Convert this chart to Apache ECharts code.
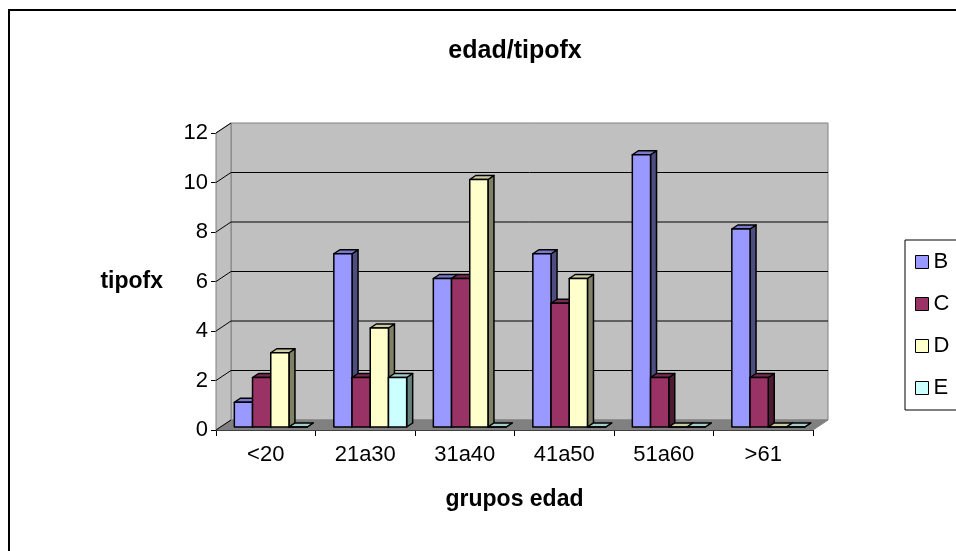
<!DOCTYPE html>
<html>
<head>
<meta charset="utf-8">
<script src="https://cdn.jsdelivr.net/npm/echarts@6/dist/echarts.min.js"></script>
<style>
  html, body { margin: 0; padding: 0; background: #fff; }
  #chart { width: 956px; height: 551px; }
</style>
</head>
<body>
<div id="chart"></div>
<script>
const categories = ['<20', '21a30', '31a40', '41a50', '51a60', '>61'];
const serieB = [1, 7, 6, 7, 11, 8];
const serieC = [2, 2, 6, 5, 2, 2];
const serieD = [3, 4, 10, 6, 0, 0];
const serieE = [0, 2, 0, 0, 0, 0];
const seriesNames = ['B', 'C', 'D', 'E'];
const seriesValues = [serieB, serieC, serieD, serieE];
const colors = ['#9999FF', '#993366', '#FFFFCC', '#CCFFFF'];
const yTicks = [0, 2, 4, 6, 8, 10, 12];

// depth of the fake 3d box and of the bars
const DX = 15, DY = -10;
const FX = 5, FY = -3;
const BX = 6, BY = -4;

function shade(hex, k) {
  const n = parseInt(hex.slice(1), 16);
  const r = Math.round(((n >> 16) & 255) * k);
  const g = Math.round(((n >> 8) & 255) * k);
  const b = Math.round((n & 255) * k);
  return 'rgb(' + r + ',' + g + ',' + b + ')';
}

function renderWalls(params, api) {
  const bw = api.size([1, 0])[0];
  const first = api.coord([0, 0]);
  const last = api.coord([categories.length - 1, 0]);
  const x0 = first[0] - bw / 2, x1 = last[0] + bw / 2;
  const y0 = first[1];
  const yTop = api.coord([0, yTicks[yTicks.length - 1]])[1];
  const kids = [
    { type: 'polygon', shape: { points: [[x0 + DX, yTop + DY], [x1 + DX, yTop + DY], [x1 + DX, y0 + DY], [x0 + DX, y0 + DY]] },
      style: { fill: '#c0c0c0', stroke: '#808080', lineWidth: 1 } },
    { type: 'polygon', shape: { points: [[x0, yTop], [x0 + DX, yTop + DY], [x0 + DX, y0 + DY], [x0, y0]] },
      style: { fill: '#c0c0c0', stroke: '#808080', lineWidth: 1 } },
    { type: 'polygon', shape: { points: [[x0, y0], [x1, y0], [x1 + DX, y0 + DY], [x0 + DX, y0 + DY]] },
      style: { fill: '#808080', stroke: '#808080', lineWidth: 1 } }
  ];
  yTicks.forEach(function (t) {
    const y = api.coord([0, t])[1];
    if (t > 0 && t < yTicks[yTicks.length - 1]) {
      kids.push({ type: 'line', shape: { x1: x0 + DX, y1: y + DY, x2: x1 + DX, y2: y + DY },
        style: { stroke: '#000', lineWidth: 1 } });
    }
    kids.push({ type: 'line', shape: { x1: x0, y1: y, x2: x0 + DX, y2: y + DY },
      style: { stroke: '#000', lineWidth: 1 } });
  });
  return { type: 'group', children: kids };
}

function makeRenderBar(s) {
  const col = colors[s];
  return function (params, api) {
    const i = api.value(0), v = api.value(1);
    const base = api.coord([i, 0]);
    const top = api.coord([i, v]);
    const bw = api.size([1, 0])[0];
    const w = bw * 0.183;
    const xl = base[0] - 2 * w + s * w + FX, xr = xl + w;
    const yb = base[1] + FY, yt = top[1] + FY;
    const st = { stroke: '#000', lineWidth: 1.5, lineJoin: 'round' };
    return {
      type: 'group',
      children: [
        { type: 'polygon', shape: { points: [[xr, yt], [xr + BX, yt + BY], [xr + BX, yb + BY], [xr, yb]] },
          style: Object.assign({ fill: shade(col, 0.5) }, st) },
        { type: 'polygon', shape: { points: [[xl, yt], [xr, yt], [xr + BX, yt + BY], [xl + BX, yt + BY]] },
          style: Object.assign({ fill: shade(col, 0.8) }, st) },
        { type: 'rect', shape: { x: xl, y: yt, width: w, height: yb - yt },
          style: Object.assign({ fill: col }, st) }
      ]
    };
  };
}

const chart = echarts.init(document.getElementById('chart'));

const series = [{
  type: 'custom',
  name: 'walls',
  silent: true,
  z: 1,
  data: [[0, 0]],
  renderItem: renderWalls
}];
seriesNames.forEach(function (name, s) {
  series.push({
    type: 'custom',
    name: name,
    z: 2 + s,
    itemStyle: { color: colors[s], borderColor: '#000', borderWidth: 1 },
    encode: { x: 0, y: 1 },
    data: seriesValues[s].map(function (v, i) { return [i, v]; }),
    renderItem: makeRenderBar(s)
  });
});

chart.setOption({
  animation: false,
  backgroundColor: '#fff',
  textStyle: { fontFamily: 'Liberation Sans, Arial, sans-serif' },
  title: {
    text: 'edad/tipofx',
    left: 510,
    top: 34,
    textAlign: 'center',
    textStyle: { fontSize: 25, fontWeight: 'bold', color: '#000' }
  },
  legend: {
    left: 905,
    top: 240,
    orient: 'vertical',
    icon: 'rect',
    itemWidth: 13,
    itemHeight: 13,
    itemGap: 20,
    padding: [11, 40, 11, 10],
    borderColor: '#000',
    borderWidth: 1,
    textStyle: { fontSize: 22, color: '#000', lineHeight: 20 },
    data: seriesNames.map(function (n, s) {
      return { name: n, itemStyle: { color: colors[s], borderColor: '#000', borderWidth: 1 } };
    })
  },
  grid: { left: 216, right: 143, top: 133, bottom: 121, containLabel: false },
  xAxis: {
    type: 'category',
    data: categories,
    name: 'grupos edad',
    nameLocation: 'middle',
    nameGap: 58,
    nameTextStyle: { fontSize: 23, fontWeight: 'bold', color: '#000' },
    axisLine: { lineStyle: { color: '#000', width: 1 } },
    axisTick: { show: true, interval: 0, alignWithLabel: false, length: 6, lineStyle: { color: '#000' } },
    axisLabel: { fontSize: 22, color: '#000', margin: 14, interval: 0 },
    splitLine: { show: false }
  },
  yAxis: {
    type: 'value',
    min: 0,
    max: 12,
    interval: 2,
    name: 'tipofx',
    nameLocation: 'middle',
    nameRotate: 0,
    nameGap: 53,
    nameTextStyle: { fontSize: 23, fontWeight: 'bold', color: '#000' },
    axisLine: { show: true, lineStyle: { color: '#000', width: 1 } },
    axisTick: { show: true, length: 5, lineStyle: { color: '#000' } },
    axisLabel: { fontSize: 22, color: '#000', margin: 8 },
    splitLine: { show: false }
  },
  graphic: [{
    type: 'rect',
    shape: { x: 9, y: 10, width: 1100, height: 700 },
    style: { fill: 'none', stroke: '#000', lineWidth: 2 },
    silent: true,
    z: 100
  }],
  series: series
});
</script>
</body>
</html>
